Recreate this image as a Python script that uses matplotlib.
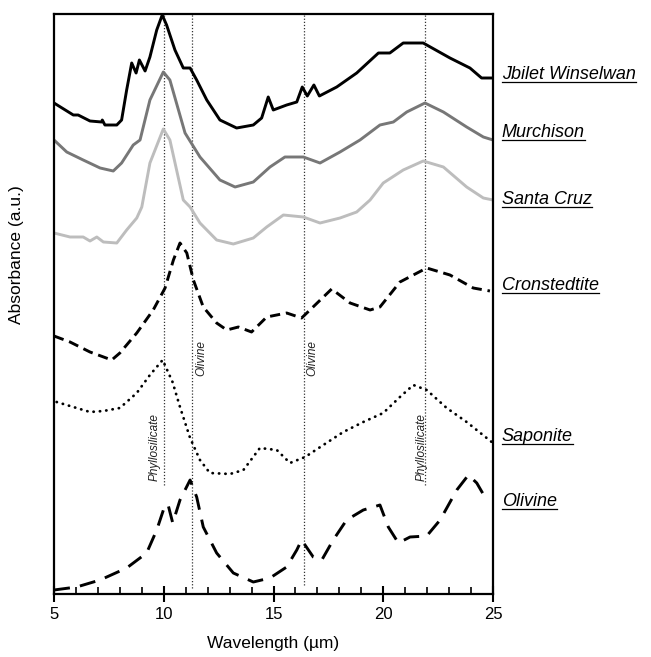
import numpy as np
import matplotlib
matplotlib.use("Agg")
import matplotlib.pyplot as plt
from matplotlib.lines import Line2D
from matplotlib.ticker import MultipleLocator

plt.rcParams["font.family"] = ["Liberation Sans", "DejaVu Sans"]

# spectra (stacked, arbitrary absorbance units)
jbilet_x = [5.0, 5.88, 6.1, 6.64, 7.17, 7.2, 7.32, 7.86, 8.08, 8.31, 8.54, 8.74, 8.89, 9.15, 9.37,
            9.68, 9.93, 10.13, 10.51, 10.89, 11.2, 11.5, 11.96, 12.56, 13.32, 14.08, 14.46, 14.76,
            14.99, 15.6, 16.06, 16.31, 16.54, 16.84, 17.09, 17.88, 18.79, 19.78, 20.3, 20.91,
            21.82, 23.04, 23.95, 24.48, 25.0]
jbilet_y = [491, 479, 479, 473, 472, 474, 469, 469, 474, 504, 531, 521, 534, 523, 537,
            564, 579, 569, 544, 526, 526, 514, 494, 474, 466, 469, 476, 497,
            484, 489, 492, 507, 498, 509, 498, 507, 521, 541, 541, 551,
            551, 536, 526, 516, 516]

murch_x = [5.0, 5.58, 6.33, 7.1, 7.7, 8.08, 8.61, 8.92, 9.37, 9.98, 10.28, 10.97, 11.65, 12.56,
           13.25, 14.08, 14.84, 15.52, 16.36, 17.12, 18.03, 18.94, 19.85, 20.46, 21.07, 21.9,
           22.74, 23.8, 24.56, 25.0]
murch_y = [454, 442, 434, 426, 423, 431, 449, 454, 494, 522, 514, 461, 437, 414,
           407, 412, 427, 437, 437, 431, 442, 454, 469, 472, 482, 491,
           482, 467, 457, 454]

santa_x = [5.0, 5.73, 6.33, 6.64, 6.95, 7.25, 7.86, 8.31, 8.77, 9.0, 9.37, 9.98, 10.28, 10.89,
           11.2, 11.65, 12.41, 13.17, 14.08, 14.69, 15.45, 16.36, 17.12, 18.03, 18.79, 19.4,
           20.0, 20.91, 21.82, 22.74, 23.8, 24.56, 25.0]
santa_y = [361, 357, 357, 353, 357, 352, 351, 364, 376, 387, 431, 465, 454, 394,
           387, 371, 354, 350, 356, 367, 379, 377, 371, 376, 382, 394,
           411, 424, 433, 427, 407, 396, 394]

cron_x = [5.0, 5.73, 6.64, 7.63, 8.0, 8.77, 9.52, 10.06, 10.44, 10.74, 11.05, 11.35, 11.8, 12.41,
          12.87, 13.4, 14.0, 14.69, 15.6, 16.28, 16.66, 17.65, 18.49, 19.4, 19.85, 20.76, 21.98,
          23.04, 24.1, 24.86]
cron_y = [258, 252, 242, 234, 241, 261, 284, 306, 334, 351, 341, 314, 287, 271,
          264, 267, 262, 277, 281, 276, 284, 305, 291, 284, 287, 312, 326,
          319, 306, 303]

sapo_x = [5.12, 6.64, 7.25, 8.0, 8.77, 9.37, 9.95, 10.4, 10.74, 11.2, 11.65, 12.1, 13.02, 13.63,
          14.38, 15.15, 15.75, 16.44, 17.27, 18.18, 19.09, 20.0, 20.76, 21.37, 21.98, 22.89,
          23.8, 24.94]
sapo_y = [192, 182, 183, 186, 201, 219, 234, 212, 187, 156, 134, 121, 120, 124,
          146, 144, 131, 137, 149, 162, 172, 181, 197, 209, 204, 186,
          172, 152]

oliv_x = [5.0, 6.03, 7.1, 8.31, 9.22, 9.68, 10.06, 10.2, 10.41, 10.74, 11.2, 11.5, 11.8, 12.41,
          13.17, 14.08, 14.84, 15.6, 16.06, 16.28, 16.81, 17.2, 17.72, 18.33, 19.09, 19.85,
          20.23, 20.69, 21.22, 21.98, 22.59, 23.35, 23.88, 24.26, 24.71]
oliv_y = [4, 7, 14, 26, 41, 64, 89, 89, 71, 94, 114, 97, 67, 41,
          21, 12, 16, 27, 44, 54, 37, 34, 54, 74, 84, 89,
          67, 51, 57, 58, 74, 104, 119, 111, 94]

names = ["Jbilet Winselwan", "Murchison", "Santa Cruz", "Cronstedtite", "Saponite", "Olivine"]
label_y = [515, 457, 390, 304, 153, 88]

# band positions (µm) and marker labels
band_x = [10.0, 11.3, 16.4, 21.9]
band_bottom = [109, 6, 9, 109]
band_text = ["Phyllosilicate", "Olivine", "Olivine", "Phyllosilicate"]
band_text_x = [9.6, 11.7, 16.75, 21.75]
band_text_y = [147, 236, 236, 147]

fig = plt.figure(figsize=(6.51, 6.57), dpi=100)
ax = fig.add_axes([54 / 651, 63 / 657, 439 / 651, 580 / 657])

for xv, yb in zip(band_x, band_bottom):
    ax.plot([xv, xv], [yb, 580], color="#333333", lw=0.9, ls=(0, (1, 1.5)), zorder=1)
for t, tx, ty in zip(band_text, band_text_x, band_text_y):
    ax.text(tx, ty, t, rotation=90, fontsize=8.5, style="italic", ha="center", va="center",
            color="#222222")

lw = 2.1
kw = dict(solid_joinstyle="round", dash_joinstyle="round", solid_capstyle="round")
ax.plot(jbilet_x, jbilet_y, color="black", lw=lw, **kw)
ax.plot(murch_x, murch_y, color="#777777", lw=lw, **kw)
ax.plot(santa_x, santa_y, color="#bdbdbd", lw=lw, **kw)
ax.plot(cron_x, cron_y, color="black", lw=lw, ls=(0, (3.5, 2)), **kw)
ax.plot(sapo_x, sapo_y, color="black", lw=2.0, ls=(0, (0.1, 2.2)), dash_capstyle="round",
        dash_joinstyle="round")
ax.plot(oliv_x, oliv_y, color="black", lw=lw, ls=(0, (5.5, 3.5)), **kw)

ax.set_xlim(5, 25)
ax.set_ylim(0, 580)
ax.set_yticks([])
ax.xaxis.set_major_locator(MultipleLocator(5))
ax.xaxis.set_minor_locator(MultipleLocator(1))
ax.tick_params(axis="x", which="major", direction="inout", length=11, width=1.5, labelsize=12,
               pad=4)
ax.tick_params(axis="x", which="minor", direction="in", length=5, width=1.2)
for s in ax.spines.values():
    s.set_linewidth(1.6)

ax.set_xlabel("Wavelength (µm)", fontsize=12.5, labelpad=10)
fig.text(17 / 651, 1 - 255 / 657, "Absorbance (a.u.)", rotation=90, fontsize=12.5,
         ha="center", va="center")

trans = ax.get_yaxis_transform()
texts = []
for n, yv in zip(names, label_y):
    texts.append(ax.text(1.02, yv, n, transform=trans, fontsize=13, style="italic",
                         ha="left", va="baseline", clip_on=False))

# underline the sample names
fig.canvas.draw()
r = fig.canvas.get_renderer()
for t in texts:
    bb = t.get_window_extent(r)
    _, yb = ax.transData.transform((0, t.get_position()[1]))
    x0, y0 = fig.transFigure.inverted().transform((bb.x0, yb - 3))
    x1, _ = fig.transFigure.inverted().transform((bb.x1, yb - 3))
    fig.add_artist(Line2D([x0, x1], [y0, y0], transform=fig.transFigure, color="black", lw=0.9))

fig.savefig("out.png", dpi=100)
